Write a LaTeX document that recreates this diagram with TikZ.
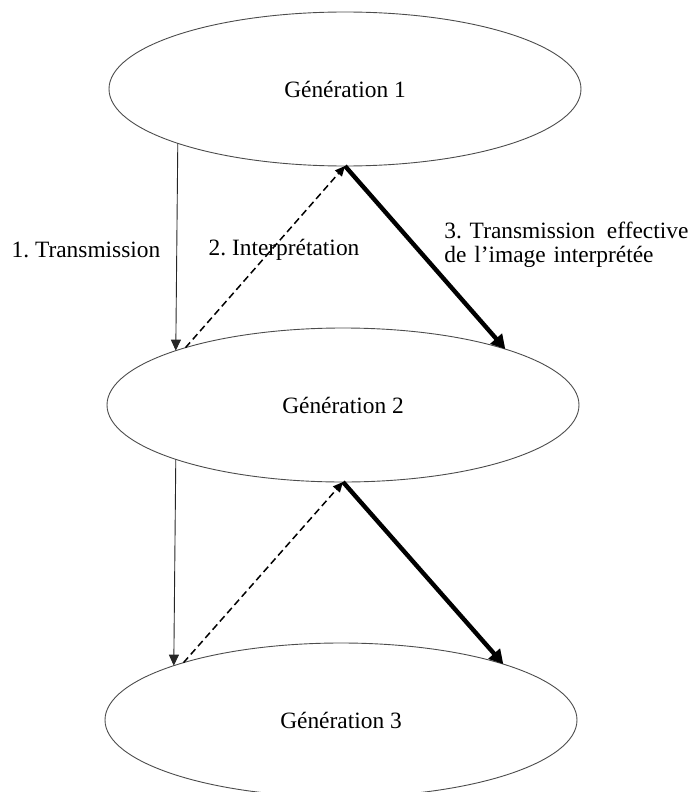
\documentclass[tikz,border=0pt]{standalone}
\usepackage{fontspec}
\setmainfont{Liberation Serif}
\usepackage{tikz}
\usetikzlibrary{shapes.geometric}
\usetikzlibrary{arrows,arrows.meta}
\frenchspacing

\tikzstyle{generation}=[ellipse, draw=black!70, line width=0.45pt, minimum width=236pt, minimum height=77pt, inner sep=0pt, outer sep=0pt, font=\fontsize{11.7}{13}\selectfont]
\tikzstyle{legend}=[inner sep=0pt, font=\fontsize{11.7}{11.8}\selectfont]
\tikzstyle{transmit}=[-{Triangle[length=5.5pt,width=5pt]}, line width=0.45pt, black!85]
\tikzstyle{interpret}=[-{Triangle[length=5pt,width=4.5pt]}, line width=0.75pt, dash pattern=on 3.5pt off 2pt]
\tikzstyle{effective}=[-{Triangle[length=7pt,width=7.5pt]}, line width=2.2pt]

\begin{document}
\begin{tikzpicture}[x=0.5pt,y=-0.5pt]

	  \useasboundingbox (0,0) rectangle (691,792);

	  %----------------------------------------------------------------
	  \node [generation] (gen1) at (345,89) {Génération 1};
	  \node [generation] (gen2) at (343,405) {Génération 2};
	  \node [generation] (gen3) at (341,720) {Génération 3};

	  %----------------------------------------------------------------
	  \draw [transmit] (gen1.198) -- (gen2.162);
	  \draw [interpret] (gen2.160) -- (gen1.south);
	  \draw [effective] (gen1.south) -- (gen2.19);

	  \node [legend] (trans) at (86,250) {1. Transmission};
	  \node [legend] (interp) at (284,250) {2. Interprétation};
	  \node [legend, anchor=west, text width=122pt, align=left] (effect) at (444,245)
	        {3. Transmission\hfill effective\\de l’image interprétée};

	  %----------------------------------------------------------------
	  \draw [transmit] (gen2.198) -- (gen3.162);
	  \draw [interpret] (gen3.160) -- (gen2.south);
	  \draw [effective] (gen2.south) -- (gen3.19);

\end{tikzpicture}
\end{document}
